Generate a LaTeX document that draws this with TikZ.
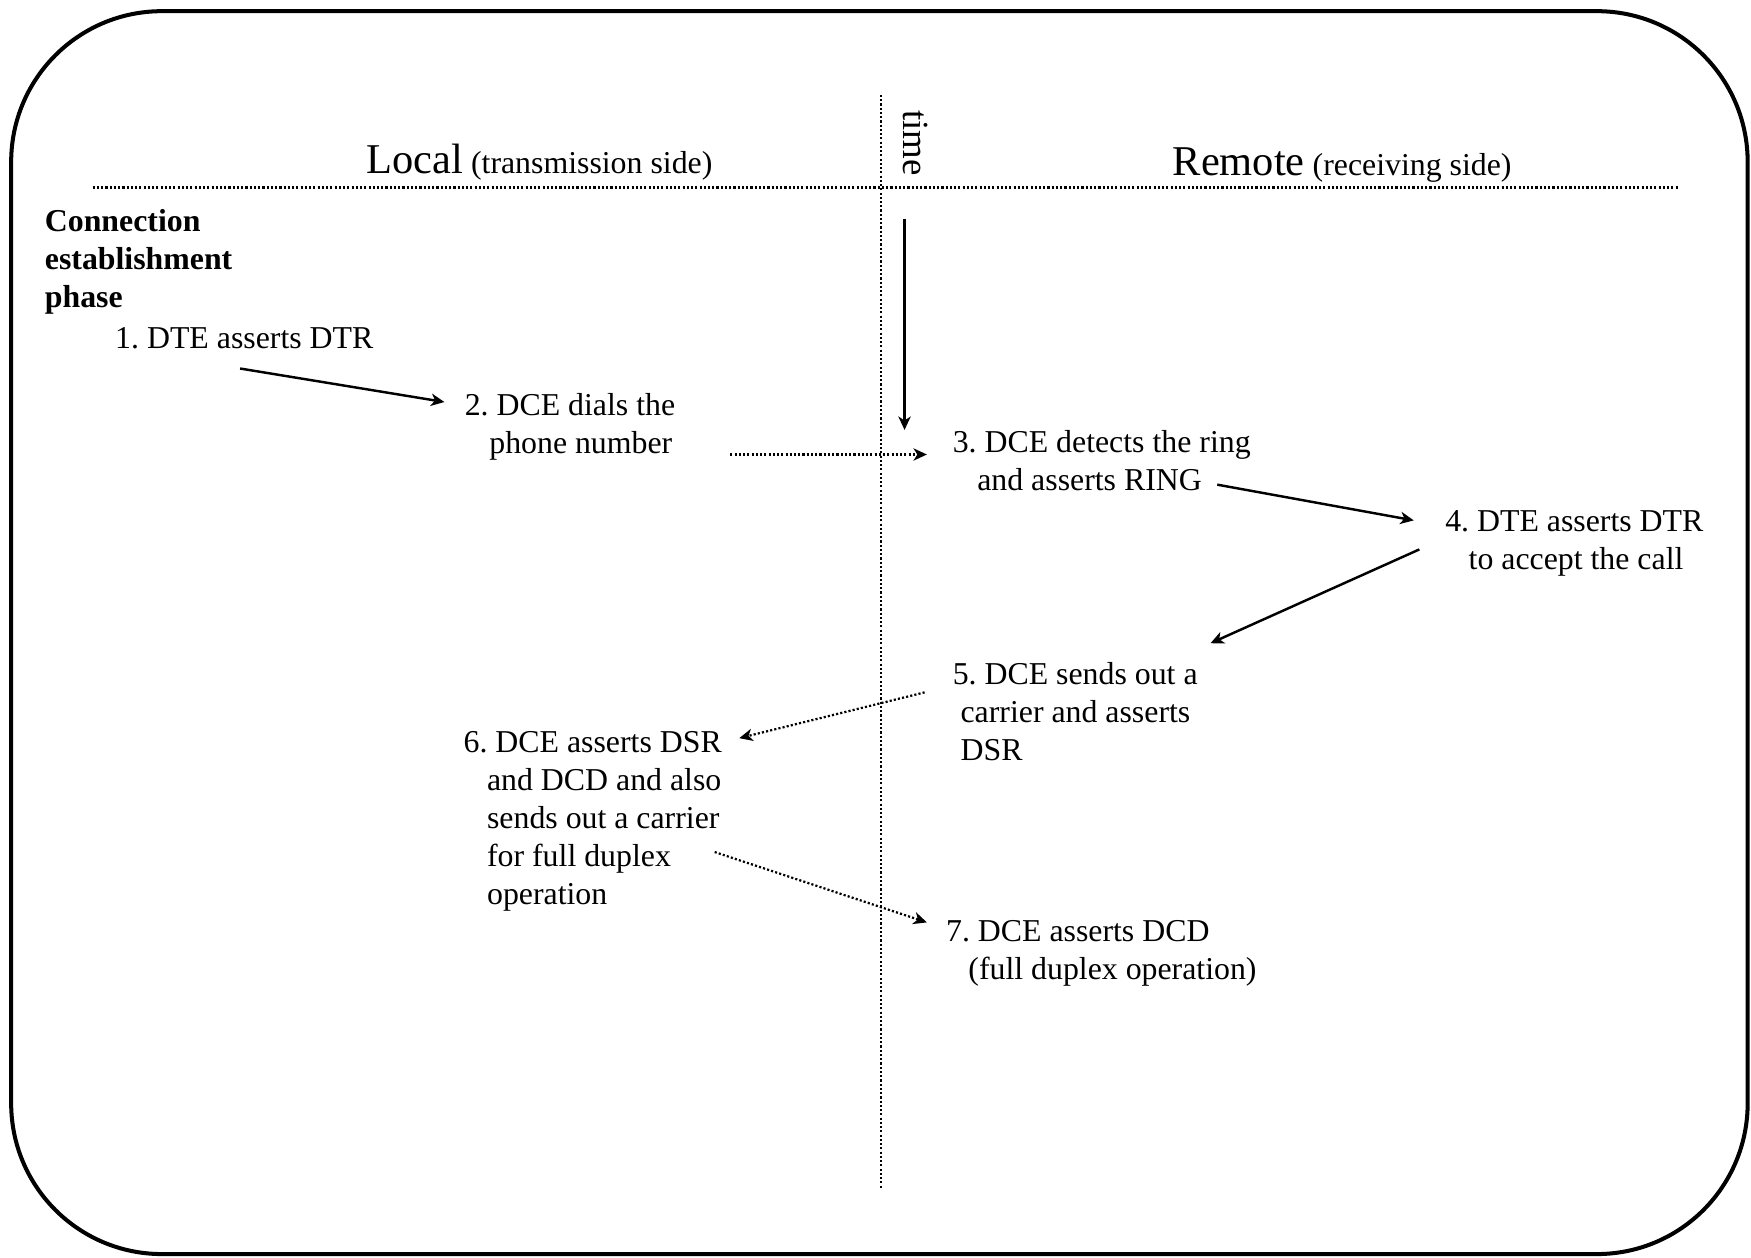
\documentclass[tikz,border=0pt]{standalone}
\usepackage{fontspec}
\setmainfont{Liberation Serif}
\usetikzlibrary{arrows.meta}
\frenchspacing

\begin{document}
\begin{tikzpicture}[x=1pt,y=-1pt,
  every node/.style={inner sep=0pt, anchor=base west, font=\fontsize{28.5}{34}\selectfont},
  dotline/.style={line width=2pt, dash pattern=on 1.9pt off 1.9pt},
  solidarrow/.style={line width=2.2pt, -{Stealth[length=12pt,width=11pt,inset=3.5pt]}},
  dotarrow/.style={dotline, -{Stealth[length=12pt,width=11pt,inset=3.5pt]}}]

  % page frame
  \useasboundingbox (0,0) rectangle (1568,1126);
  \draw[line width=3.6pt, rounded corners=135pt] (10,10) rectangle (1565,1123);

  % time axis and side separator
  \draw[dotline] (789,85) -- (789,1065);
  \draw[dotline] (83,168) -- (1503,168);

  % headers
  \node (local) at (328,155) {\frenchspacing{\fontsize{38}{40}\selectfont Local} (transmission side)};
  \node (remote) at (1050,157) {\frenchspacing{\fontsize{38}{40}\selectfont Remote} (receiving side)};
  \node[anchor=center, rotate=-90, font=\fontsize{33}{36}\selectfont] (time) at (820,128) {time};
  \coordinate (tstart) at (810,196);
  \coordinate (tend) at (810,385);
  \draw[solidarrow] (tstart) -- (tend);

  % phase title
  \node[font=\fontsize{28.5}{34}\selectfont\bfseries] (phase) at (40,207)
    {\begin{tabular}[t]{@{}l@{}}Connection\\establishment\\phase\end{tabular}};

  % steps
  \node (s1) at (103,312) {\frenchspacing 1. DTE asserts DTR};
  \node (s2) at (416,372)
    {\frenchspacing\begin{tabular}[t]{@{}l@{}}2. DCE dials the\\\hspace*{22pt}phone number\end{tabular}};
  \node (s3) at (853,405)
    {\frenchspacing\begin{tabular}[t]{@{}l@{}}3. DCE detects the ring\\\hspace*{22pt}and asserts RING\end{tabular}};
  \node (s4) at (1294,476)
    {\frenchspacing\begin{tabular}[t]{@{}l@{}}4. DTE asserts DTR\\\hspace*{21pt}to accept the call\end{tabular}};
  \node (s5) at (853,613)
    {\frenchspacing\begin{tabular}[t]{@{}l@{}}5. DCE sends out a\\\hspace*{7pt}carrier and asserts\\\hspace*{7pt}DSR\end{tabular}};
  \node (s6) at (415,674)
    {\frenchspacing\begin{tabular}[t]{@{}l@{}}6. DCE asserts DSR\\\hspace*{21pt}and DCD and also\\\hspace*{21pt}sends out a carrier\\\hspace*{21pt}for full duplex\\\hspace*{21pt}operation\end{tabular}};
  \node (s7) at (847,843)
    {\frenchspacing\begin{tabular}[t]{@{}l@{}}7. DCE asserts DCD\\\hspace*{20pt}(full duplex operation)\end{tabular}};

  % signal flow
  \draw[solidarrow] ([shift={(112,18)}]s1.base west) -- ([shift={(-18,-12)}]s2.base west);
  \draw[dotarrow]   ([shift={(238,35)}]s2.base west) -- ([shift={(-23,2)}]s3.base west);
  \draw[solidarrow] ([shift={(237,29)}]s3.base west) -- ([shift={(-28,-10)}]s4.base west);
  \draw[solidarrow] ([shift={(-23,16)}]s4.base west) -- ([shift={(231,-37)}]s5.base west);
  \draw[dotarrow]   ([shift={(-25,7)}]s5.base west) -- ([shift={(247,-13)}]s6.base west);
  \draw[dotarrow]   ([shift={(225,89)}]s6.base west) -- ([shift={(-17,-17)}]s7.base west);
\end{tikzpicture}
\end{document}
